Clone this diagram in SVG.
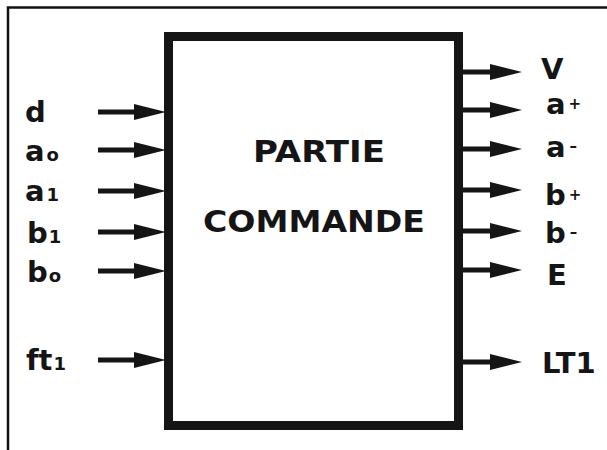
<svg xmlns="http://www.w3.org/2000/svg" width="607" height="450" viewBox="0 0 607 450">
<style>
.lbl{font-family:"DejaVu Sans","Liberation Sans",sans-serif;font-weight:bold;font-size:29px;fill:#151515}
.big{font-size:30px}
.sub{font-size:18px}
.sup{font-size:15px}
.conn{stroke:#151515;stroke-width:5;fill:none}
</style>
<defs>
<marker id="ah" markerUnits="userSpaceOnUse" markerWidth="32" markerHeight="16" refX="12" refY="8" orient="auto">
<path d="M0,0 L32,8 L0,16 Z" fill="#151515"/>
</marker>
</defs>
<rect width="607" height="450" fill="#fff"/>
<path d="M8,450 L8,7.5 L607,7.5" fill="none" stroke="#111" stroke-width="2.5"/>
<g id="partie-commande">
<rect x="168.5" y="36.5" width="290" height="389" fill="#fff" stroke="#151515" stroke-width="9"/>
<text class="lbl big" x="253" y="162" textLength="132" lengthAdjust="spacingAndGlyphs">PARTIE</text>
<text class="lbl big" x="203" y="232" textLength="222" lengthAdjust="spacingAndGlyphs">COMMANDE</text>
</g>
<g id="connectors">
<path class="conn" d="M98,112 H146" marker-end="url(#ah)"/>
<path class="conn" d="M98,150 H146" marker-end="url(#ah)"/>
<path class="conn" d="M98,191 H146" marker-end="url(#ah)"/>
<path class="conn" d="M98,232 H146" marker-end="url(#ah)"/>
<path class="conn" d="M98,271 H146" marker-end="url(#ah)"/>
<path class="conn" d="M98,360 H146" marker-end="url(#ah)"/>
<path class="conn" d="M463,72 H502" marker-end="url(#ah)"/>
<path class="conn" d="M463,110 H502" marker-end="url(#ah)"/>
<path class="conn" d="M463,149 H502" marker-end="url(#ah)"/>
<path class="conn" d="M463,190 H502" marker-end="url(#ah)"/>
<path class="conn" d="M463,231 H502" marker-end="url(#ah)"/>
<path class="conn" d="M463,270 H502" marker-end="url(#ah)"/>
<path class="conn" d="M463,362 H502" marker-end="url(#ah)"/>
</g>
<g id="in-d"><text class="lbl" x="25" y="122">d</text></g>
<g id="in-a0"><text class="lbl" x="25" y="161">a<tspan class="sub" dx="2">o</tspan></text></g>
<g id="in-a1"><text class="lbl" x="25" y="201">a<tspan class="sub" dx="2">1</tspan></text></g>
<g id="in-b1"><text class="lbl" x="27" y="243">b<tspan class="sub" dx="1">1</tspan></text></g>
<g id="in-b0"><text class="lbl" x="27" y="282">b<tspan class="sub" dx="1">o</tspan></text></g>
<g id="in-ft1"><text class="lbl" x="26" y="370">ft<tspan class="sub" dx="1">1</tspan></text></g>
<g id="out-V"><text class="lbl" x="541" y="79">V</text></g>
<g id="out-a-plus"><text class="lbl" x="546" y="114">a<tspan class="sup" dx="3" dy="-5">+</tspan></text></g>
<g id="out-a-minus"><text class="lbl" x="546" y="157">a<tspan class="sup" dx="4" dy="-6">–</tspan></text></g>
<g id="out-b-plus"><text class="lbl" x="545" y="205">b<tspan class="sup" dx="3" dy="-5">+</tspan></text></g>
<g id="out-b-minus"><text class="lbl" x="545" y="243">b<tspan class="sup" dx="4" dy="-6">–</tspan></text></g>
<g id="out-E"><text class="lbl" x="547" y="285">E</text></g>
<g id="out-LT1"><text class="lbl" x="542" y="373">LT1</text></g>
</svg>
